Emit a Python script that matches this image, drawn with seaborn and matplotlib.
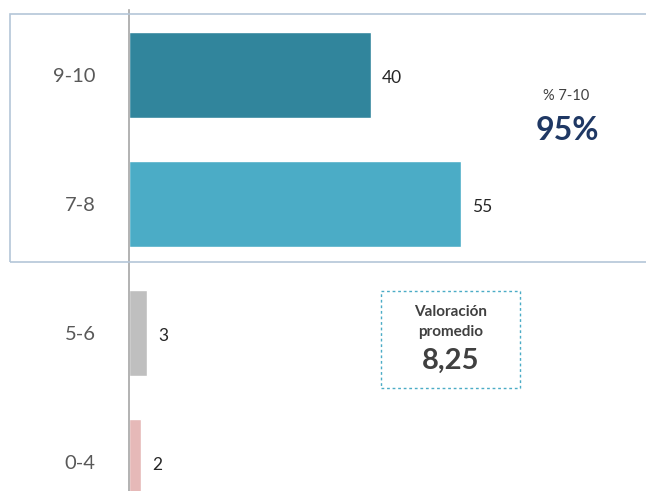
import numpy as np
import pandas as pd
import matplotlib
matplotlib.use('Agg')
import matplotlib.pyplot as plt
import seaborn as sns
from matplotlib.patches import Rectangle

# Data
categories = ['9-10', '7-8', '5-6', '0-4']
values = [40, 55, 3, 2]
bar_colors = ['#31859c', '#4bacc6', '#bfbfbf', '#e6b9b8']
pct_top_label = '% 7-10'
pct_top_value = '95%'
avg_label = 'Valoración\npromedio'
avg_value = '8,25'

sns.set_style('white')
plt.rcParams['font.family'] = ['Lato', 'DejaVu Sans']

df = pd.DataFrame({'cat': categories, 'val': values})

fig = plt.figure(figsize=(6.46, 4.91), dpi=100)
ax = fig.add_axes([129 / 646, 0.0, 1 - 129 / 646, 1 - 10 / 491])

sns.barplot(data=df, y='cat', x='val', hue='cat', palette=bar_colors,
            order=categories, hue_order=categories, orient='h',
            width=0.66, legend=False, saturation=1, ax=ax)

ax.set_xlim(0, 85.6)
ax.set_ylim(3.225, -0.504)
ax.set_xlabel('')
ax.set_ylabel('')
ax.set_xticks([])

for s in ['top', 'right', 'bottom']:
    ax.spines[s].set_visible(False)
ax.spines['left'].set_color('#a6a6a6')
ax.spines['left'].set_linewidth(1.2)

ax.set_yticks(range(len(categories)))
ax.set_yticklabels(categories, fontsize=14.5, color='#595959')
ax.tick_params(axis='y', which='major', length=0, pad=24)
ax.set_yticks([-0.5, 0.5, 1.5, 2.5], minor=True)
ax.tick_params(axis='y', which='minor', length=6, width=1.2, color='#a6a6a6')

# value labels
for i, v in enumerate(values):
    ax.text(v + 1.8, i + 0.02, str(v), va='center', ha='left',
            fontsize=12.5, color='#262626')

# box around the top two categories (right side runs off the image)
box = Rectangle((10 / 646, 1 - 262 / 491), 1.0, (262 - 14) / 491,
                transform=fig.transFigure, fill=False, edgecolor='#b4c6d8',
                linewidth=1.2, clip_on=False)
fig.patches.append(box)

fig.text(566 / 646, 1 - 96 / 491, pct_top_label, ha='center', va='center',
         fontsize=10.5, color='#404040')
fig.text(567 / 646, 1 - 130 / 491, pct_top_value, ha='center', va='center',
         fontsize=23, fontweight='bold', color='#1f3864')

# average rating box
avg_box = Rectangle((381 / 646, 1 - 388 / 491), (520 - 381) / 646, (388 - 291) / 491,
                    transform=fig.transFigure, fill=False, edgecolor='#4bacc6',
                    linewidth=1.0, linestyle=(0, (2, 2)), clip_on=False)
fig.patches.append(avg_box)
fig.text(451 / 646, 1 - 322 / 491, avg_label, ha='center', va='center',
         fontsize=11, fontweight='bold', color='#404040', linespacing=1.6)
fig.text(451 / 646, 1 - 361 / 491, avg_value, ha='center', va='center',
         fontsize=21, fontweight='bold', color='#404040')

plt.savefig('out.png', dpi=100)
plt.close()
